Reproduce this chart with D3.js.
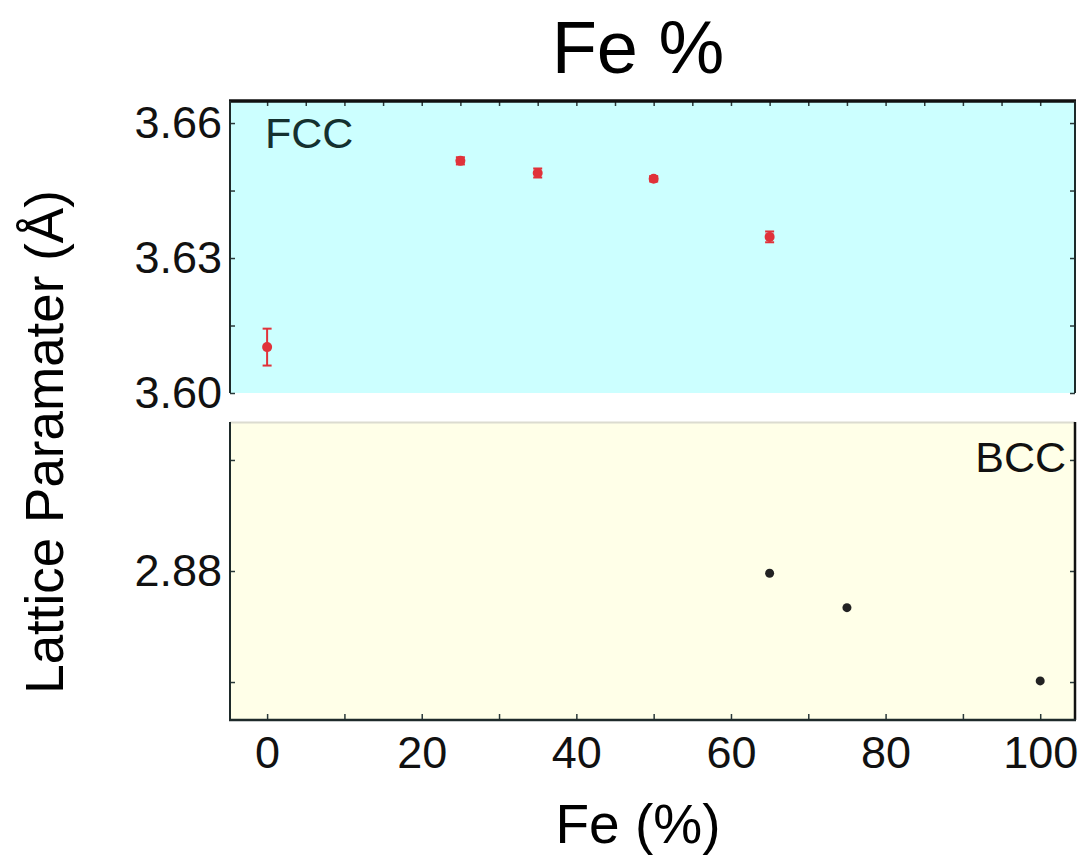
<!DOCTYPE html>
<html>
<head>
<meta charset="utf-8">
<script src="https://cdn.jsdelivr.net/npm/d3@7"></script>
<style>
  html, body { margin: 0; padding: 0; background: #ffffff; }
  svg { display: block; font-family: "Liberation Sans", Arial, sans-serif; }
</style>
</head>
<body>
<svg id="chart" width="1089" height="861"></svg>
<script>
// Lattice parameter vs Fe content, FCC and BCC phases
const fccFe = [0, 25, 35, 50, 65];
const fccA = [3.6102, 3.6516, 3.6489, 3.6476, 3.6347];
const fccErr = [0.0041, 0.0008, 0.0010, 0.0006, 0.0012];

const bccFe = [65, 75, 100];
const bccA = [2.8798, 2.8767, 2.8701];
const bccErr = [0.0002, 0.0003, 0.0002];

const xTicks = [0, 20, 40, 60, 80, 100];
const fccTicks = [3.60, 3.63, 3.66];
const bccTicks = [2.88];

const svg = d3.select("#chart");

const left = 230, right = 1075;
const fccTop = 101, fccBottom = 393;
const bccTop = 422, bccBottom = 720;

const x = d3.scaleLinear().domain([-4.8, 104.5]).range([left, right]);
const yF = d3.scaleLinear().domain([3.60, 3.6649]).range([fccBottom, fccTop]);
const yB = d3.scaleLinear().domain([2.86658, 2.89342]).range([bccBottom, bccTop]);

// panel backgrounds
svg.append("rect").attr("x", left).attr("y", fccTop)
  .attr("width", right - left).attr("height", fccBottom - fccTop)
  .attr("fill", "#ccffff");
svg.append("rect").attr("x", left).attr("y", bccTop)
  .attr("width", right - left).attr("height", bccBottom - bccTop)
  .attr("fill", "#ffffe8");
svg.append("line").attr("x1", left).attr("x2", right)
  .attr("y1", bccTop + 0.5).attr("y2", bccTop + 0.5)
  .attr("stroke", "#dcdcd0").attr("stroke-width", 2);

const axisStyle = g => {
  g.selectAll(".domain").remove();
  g.selectAll(".tick line").attr("stroke", "#2a3a3a").attr("stroke-width", 1.5);
  g.selectAll(".tick text").attr("fill", "#111").attr("font-family", "'Liberation Sans', Arial, sans-serif");
};

// FCC panel axes
svg.append("g").attr("transform", `translate(${left},0)`)
  .call(d3.axisRight(yF).tickValues(d3.range(3.60, 3.6651, 0.015)).tickSize(5).tickFormat(""))
  .call(axisStyle);
svg.append("g").attr("transform", `translate(${left - 8},0)`)
  .call(d3.axisLeft(yF).tickValues(fccTicks).tickSize(0).tickFormat(d3.format(".2f")))
  .call(axisStyle)
  .call(g => g.selectAll(".tick text").attr("font-size", 45).attr("x", 0));
svg.append("g").attr("transform", `translate(${right},0)`)
  .call(d3.axisLeft(yF).tickValues(d3.range(3.60, 3.6651, 0.015)).tickSize(5).tickFormat(""))
  .call(axisStyle);
svg.append("g").attr("transform", `translate(0,${fccTop})`)
  .call(d3.axisBottom(x).tickValues(d3.range(0, 101, 5)).tickSize(5).tickFormat(""))
  .call(axisStyle);

// BCC panel axes
const bccMinor = [2.87, 2.88, 2.89];
svg.append("g").attr("transform", `translate(${left},0)`)
  .call(d3.axisRight(yB).tickValues(bccMinor).tickSize(5).tickFormat(""))
  .call(axisStyle);
svg.append("g").attr("transform", `translate(${left - 8},0)`)
  .call(d3.axisLeft(yB).tickValues(bccTicks).tickSize(0).tickFormat(d3.format(".2f")))
  .call(axisStyle)
  .call(g => g.selectAll(".tick text").attr("font-size", 45).attr("x", 0));
svg.append("g").attr("transform", `translate(${right},0)`)
  .call(d3.axisLeft(yB).tickValues(bccMinor).tickSize(5).tickFormat(""))
  .call(axisStyle);
svg.append("g").attr("transform", `translate(0,${bccBottom})`)
  .call(d3.axisTop(x).tickValues(d3.range(0, 101, 10)).tickSize(6).tickFormat(""))
  .call(axisStyle);
svg.append("g").attr("transform", `translate(0,${bccBottom + 16})`)
  .call(d3.axisBottom(x).tickValues(xTicks).tickSize(0).tickFormat(d3.format("d")))
  .call(axisStyle)
  .call(g => g.selectAll(".tick text").attr("font-size", 45).attr("dy", "0.71em").attr("y", 0));

// panel frames
const frame = "#1e2a2a";
svg.append("line").attr("x1", left - 1).attr("x2", right + 1).attr("y1", fccTop).attr("y2", fccTop)
  .attr("stroke", "#111").attr("stroke-width", 3.5);
svg.append("line").attr("x1", left).attr("x2", left).attr("y1", fccTop).attr("y2", fccBottom)
  .attr("stroke", frame).attr("stroke-width", 2);
svg.append("line").attr("x1", right).attr("x2", right).attr("y1", fccTop).attr("y2", fccBottom)
  .attr("stroke", frame).attr("stroke-width", 2);
svg.append("line").attr("x1", left).attr("x2", left).attr("y1", bccTop).attr("y2", bccBottom)
  .attr("stroke", frame).attr("stroke-width", 2);
svg.append("line").attr("x1", right).attr("x2", right).attr("y1", bccTop).attr("y2", bccBottom)
  .attr("stroke", "#111").attr("stroke-width", 2.5);
svg.append("line").attr("x1", left - 1).attr("x2", right + 1).attr("y1", bccBottom).attr("y2", bccBottom)
  .attr("stroke", frame).attr("stroke-width", 2.5);

// FCC points with error bars
const red = "#e0323a";
const fcc = fccFe.map((f, i) => ({ f, a: fccA[i], e: fccErr[i] }));
const gF = svg.append("g");
gF.selectAll("line.err").data(fcc).join("line")
  .attr("x1", d => x(d.f)).attr("x2", d => x(d.f))
  .attr("y1", d => yF(d.a + d.e)).attr("y2", d => yF(d.a - d.e))
  .attr("stroke", red).attr("stroke-width", 2);
gF.selectAll("line.cap").data(fcc.flatMap(d => [{ f: d.f, v: d.a + d.e }, { f: d.f, v: d.a - d.e }])).join("line")
  .attr("x1", d => x(d.f) - 4.5).attr("x2", d => x(d.f) + 4.5)
  .attr("y1", d => yF(d.v)).attr("y2", d => yF(d.v))
  .attr("stroke", red).attr("stroke-width", 2);
gF.selectAll("circle").data(fcc).join("circle")
  .attr("cx", d => x(d.f)).attr("cy", d => yF(d.a)).attr("r", 5)
  .attr("fill", red);

// BCC points
const bcc = bccFe.map((f, i) => ({ f, a: bccA[i], e: bccErr[i] }));
const gB = svg.append("g");
gB.selectAll("line").data(bcc).join("line")
  .attr("x1", d => x(d.f)).attr("x2", d => x(d.f))
  .attr("y1", d => yB(d.a + d.e)).attr("y2", d => yB(d.a - d.e))
  .attr("stroke", "#222").attr("stroke-width", 2);
gB.selectAll("circle").data(bcc).join("circle")
  .attr("cx", d => x(d.f)).attr("cy", d => yB(d.a)).attr("r", 4.5)
  .attr("fill", "#222");

// phase labels
svg.append("text").attr("x", 265).attr("y", 148).attr("font-size", 43)
  .attr("fill", "#14302f").text("FCC");
svg.append("text").attr("x", 1066).attr("y", 472).attr("font-size", 43)
  .attr("text-anchor", "end").attr("fill", "#111").text("BCC");

// titles
svg.append("text").attr("x", 638).attr("y", 73).attr("font-size", 74)
  .attr("text-anchor", "middle").attr("fill", "#000").text("Fe %");
svg.append("text").attr("x", 638).attr("y", 843).attr("font-size", 55)
  .attr("text-anchor", "middle").attr("fill", "#000").text("Fe (%)");
svg.append("text").attr("transform", "translate(63,442) rotate(-90)")
  .attr("font-size", 53).attr("text-anchor", "middle").attr("fill", "#000")
  .text("Lattice Paramater (Å)");
</script>
</body>
</html>
